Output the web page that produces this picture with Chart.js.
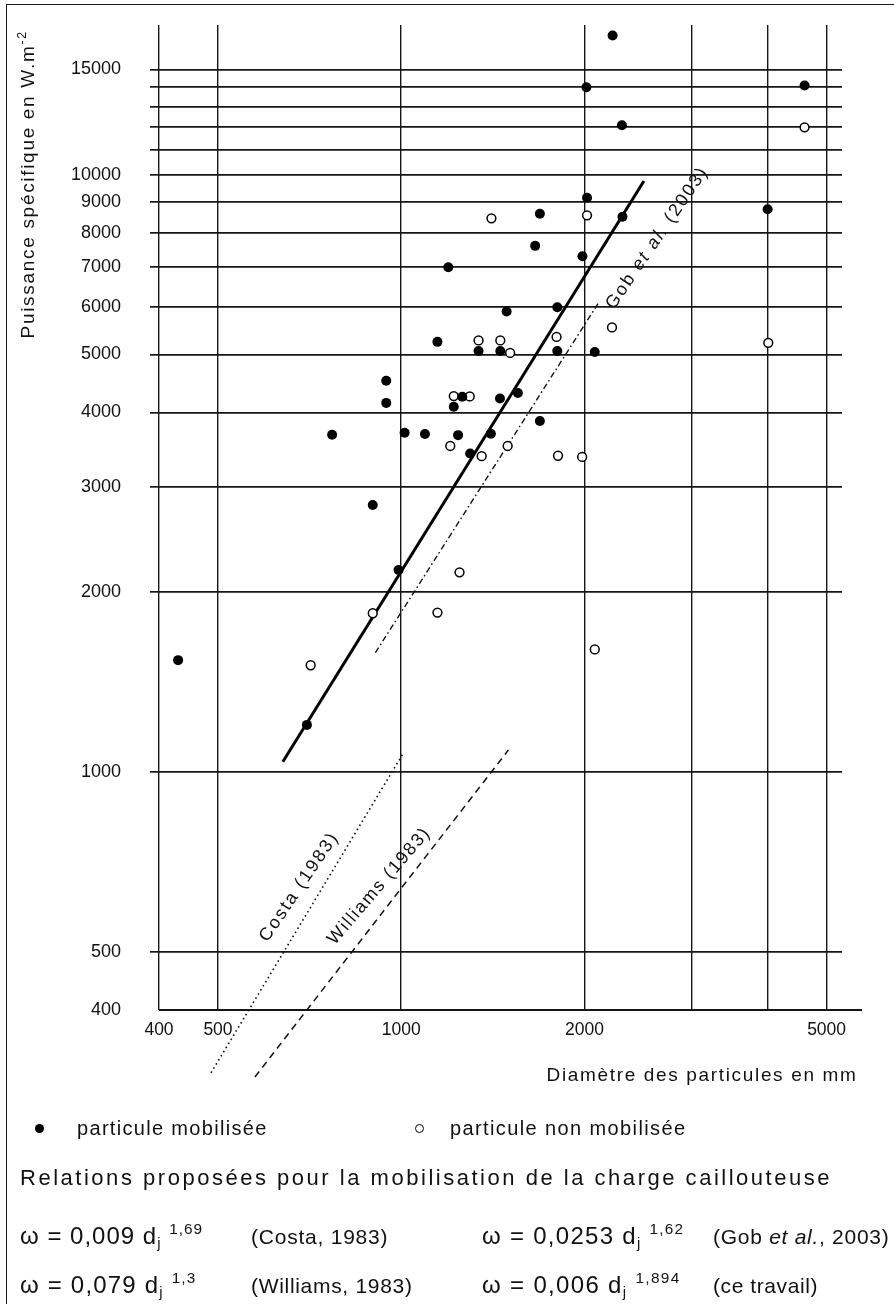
<!DOCTYPE html>
<html lang="fr">
<head>
<meta charset="utf-8">
<title>Puissance spécifique et diamètre des particules</title>
<script src="https://cdn.jsdelivr.net/npm/chart.js"></script>
<style>
html,body{margin:0;padding:0;background:#fff;}
#wrap{position:relative;width:894px;height:1304px;overflow:hidden;background:#fff;}
#c{position:absolute;left:0;top:0;}
#frame{position:absolute;left:6px;top:4px;width:1000px;height:1400px;border-left:1.5px solid #1a1a1a;border-top:1.5px solid #1a1a1a;pointer-events:none;}
.t{position:absolute;white-space:nowrap;font-family:"Liberation Sans",Arial,Helvetica,sans-serif;color:#111;line-height:1.2;transform-origin:50% 50%;}
.sup{position:relative;top:-0.62em;font-size:0.64em;}
.sub{position:relative;top:0.28em;font-size:0.62em;}
.dot{position:absolute;border-radius:50%;box-sizing:border-box;}
</style>
</head>
<body>
<div id="wrap">
<canvas id="c" width="894" height="1304"></canvas>
<div id="frame"></div>

<div class="t fit" data-cx="28" data-cy="184" data-w="308" data-rot="-90" style="font-size:19px">Puissance spécifique en W.m<span class="sup">-2</span></div>
<div class="t fit" data-cx="702" data-cy="1075" data-w="311" style="font-size:19px">Diamètre des particules en mm</div>
<div class="t fit" data-cx="657" data-cy="238" data-w="168" data-rot="-55.7" style="font-size:18px">Gob <i>et al.</i> (2003)</div>
<div class="t fit" data-cx="299" data-cy="887" data-w="128" data-rot="-56" style="font-size:18px">Costa (1983)</div>
<div class="t fit" data-cx="379" data-cy="886" data-w="148" data-rot="-49.4" style="font-size:18px">Williams (1983)</div>

<div class="dot" style="left:34.5px;top:1123.5px;width:9px;height:9px;background:#000"></div>
<div class="t fit" data-x="77" data-cy="1128" data-w="191" style="font-size:20px">particule mobilisée</div>
<div class="dot" style="left:414.5px;top:1123.5px;width:9px;height:9px;border:1.4px solid #000"></div>
<div class="t fit" data-x="450" data-cy="1128" data-w="237" style="font-size:20px">particule non mobilisée</div>

<div class="t fit" data-x="20" data-cy="1178" data-w="812" style="font-size:22px">Relations proposées pour la mobilisation de la charge caillouteuse</div>

<div class="t fit" data-x="20" data-cy="1236" data-w="183" style="font-size:24px">ω = 0,009 d<span class="sub">j</span> <span class="sup">1,69</span></div>
<div class="t fit" data-x="251" data-cy="1236" data-w="137" style="font-size:21px">(Costa, 1983)</div>
<div class="t fit" data-x="482" data-cy="1236" data-w="202" style="font-size:24px">ω = 0,0253 d<span class="sub">j</span> <span class="sup">1,62</span></div>
<div class="t fit" data-x="713" data-cy="1236" data-w="176" style="font-size:21px">(Gob <i>et al.</i>, 2003)</div>

<div class="t fit" data-x="20" data-cy="1285" data-w="177" style="font-size:24px">ω = 0,079 d<span class="sub">j</span> <span class="sup">1,3</span></div>
<div class="t fit" data-x="251" data-cy="1285" data-w="162" style="font-size:21px">(Williams, 1983)</div>
<div class="t fit" data-x="482" data-cy="1285" data-w="199" style="font-size:24px">ω = 0,006 d<span class="sub">j</span> <span class="sup">1,894</span></div>
<div class="t fit" data-x="713" data-cy="1285" data-w="105" style="font-size:21px">(ce travail)</div>
</div>

<script>
// ---------- data ----------
// particules mobilisées (diamètre mm, puissance W.m-2)
const mobX = [2225,2015,4600,2305,4000,2020,1690,2310,1660,1985,1195,1805,1490,1147,1340,1455,1805,2080,945,945,1260,1220,1453,1555,1690,770,1013,1094,1240,1404,1298,898,990,430,700];
const mobY = [17100,14000,14100,12100,8750,9150,8600,8500,7600,7300,7000,6000,5900,5250,5070,5070,5070,5050,4520,4150,4250,4090,4220,4310,3870,3670,3700,3680,3665,3685,3415,2800,2180,1540,1200];
// particules non mobilisées
const nonX = [4600,1407,2020,2220,1800,1340,1455,1510,4010,1220,1296,1204,1496,1356,1810,1983,1247,898,1147,710,2080];
const nonY = [12000,8450,8550,5550,5350,5280,5280,5030,5230,4260,4255,3515,3515,3380,3385,3370,2160,1845,1850,1510,1605];
// relations (end points of the drawn segments)
const travailX = [639, 2505];   const travailY = [1041, 9760];
const gobX = [907, 2116];       const gobY = [1585, 6130];
const costaX = [487, 1008];     const costaY = [314, 1076];
const williamsX = [575, 1500];  const williamsY = [309, 1089];
// axes
const xTicks = [400, 500, 1000, 2000, 3000, 4000, 5000];
const xLabels = [400, 500, 1000, 2000, 5000];
const yTicks = [400, 500, 1000, 2000, 3000, 4000, 5000, 6000, 7000, 8000, 9000, 10000, 11000, 12000, 13000, 14000, 15000];
const yLabels = [400, 500, 1000, 2000, 3000, 4000, 5000, 6000, 7000, 8000, 9000, 10000, 15000];

const pairs = (xs, ys) => xs.map((x, i) => ({x: x, y: ys[i]}));
const FONT = '"Liberation Sans", Arial, Helvetica, sans-serif';
const INK = '#161616';

const extras = {
  id: 'extras',
  afterDraw(chart) {
    const ctx = chart.ctx, a = chart.chartArea;
    ctx.save();
    ctx.strokeStyle = INK;
    ctx.lineWidth = 2;
    ctx.beginPath();
    ctx.moveTo(a.left, a.bottom);
    ctx.lineTo(862, a.bottom);
    ctx.stroke();
    ctx.restore();
  }
};

new Chart(document.getElementById('c'), {
  type: 'scatter',
  data: {
    datasets: [
      {label: 'particule mobilisée', data: pairs(mobX, mobY), pointRadius: 5, pointBackgroundColor: '#000', pointBorderColor: '#000', pointBorderWidth: 0, showLine: false},
      {label: 'particule non mobilisée', data: pairs(nonX, nonY), pointRadius: 4.4, pointBackgroundColor: '#fff', pointBorderColor: '#000', pointBorderWidth: 1.5, showLine: false},
      {label: 'ce travail', data: pairs(travailX, travailY), showLine: true, borderColor: '#000', borderWidth: 3, pointRadius: 0, clip: false},
      {label: 'Gob et al. (2003)', data: pairs(gobX, gobY), showLine: true, borderColor: '#111', borderWidth: 1.4, borderDash: [6, 3, 1.6, 3], pointRadius: 0, clip: false},
      {label: 'Costa (1983)', data: pairs(costaX, costaY), showLine: true, borderColor: '#111', borderWidth: 1.6, borderDash: [1.6, 3.2], pointRadius: 0, clip: false},
      {label: 'Williams (1983)', data: pairs(williamsX, williamsY), showLine: true, borderColor: '#111', borderWidth: 1.5, borderDash: [7, 5], pointRadius: 0, clip: false}
    ]
  },
  options: {
    responsive: false,
    animation: false,
    devicePixelRatio: 1,
    layout: {padding: {left: 0, right: 52, top: 25, bottom: 0}},
    plugins: {legend: {display: false}, tooltip: {enabled: false}},
    scales: {
      x: {
        type: 'logarithmic', min: 400, max: 5300,
        afterBuildTicks: s => { s.ticks = xTicks.map(v => ({value: v})); },
        afterFit: s => { s.height = 294; s.paddingLeft = 0; s.paddingRight = 0; },
        ticks: {autoSkip: false, maxRotation: 0, minRotation: 0, padding: 10, color: '#111',
          font: {family: FONT, size: 17.5},
          callback: v => xLabels.includes(v) ? String(v) : ''},
        grid: {color: INK, lineWidth: 1.4, drawTicks: false},
        border: {display: false}
      },
      y: {
        type: 'logarithmic', min: 400, max: 17800,
        afterBuildTicks: s => { s.ticks = yTicks.map(v => ({value: v})); },
        afterFit: s => { s.width = 159; s.paddingTop = 0; s.paddingBottom = 0; },
        ticks: {autoSkip: false, padding: 29, color: '#111',
          font: {family: FONT, size: 18},
          callback: v => yLabels.includes(v) ? String(v) : ''},
        grid: {color: INK, lineWidth: 1.7, tickLength: 9, tickWidth: 1.7,
          tickColor: c => (c.tick && c.tick.value === 400) ? 'rgba(0,0,0,0)' : INK},
        border: {display: false}
      }
    }
  },
  plugins: [extras]
});

// ---------- place the texts ----------
function placeTexts() {
  document.querySelectorAll('.fit').forEach(el => {
    el.style.letterSpacing = '0px';
    const target = parseFloat(el.dataset.w);
    const n = el.textContent.length;
    const natural = el.offsetWidth;
    const ls = (target - natural) / Math.max(1, n);
    el.style.letterSpacing = ls.toFixed(2) + 'px';
    const w = el.offsetWidth, h = el.offsetHeight;
    const cx = el.dataset.cx !== undefined ? parseFloat(el.dataset.cx) : parseFloat(el.dataset.x) + target / 2;
    const cy = parseFloat(el.dataset.cy);
    el.style.left = (cx - w / 2) + 'px';
    el.style.top = (cy - h / 2) + 'px';
    if (el.dataset.rot) el.style.transform = 'rotate(' + el.dataset.rot + 'deg)';
  });
}
placeTexts();
if (document.fonts && document.fonts.ready) document.fonts.ready.then(placeTexts);
</script>
</body>
</html>
